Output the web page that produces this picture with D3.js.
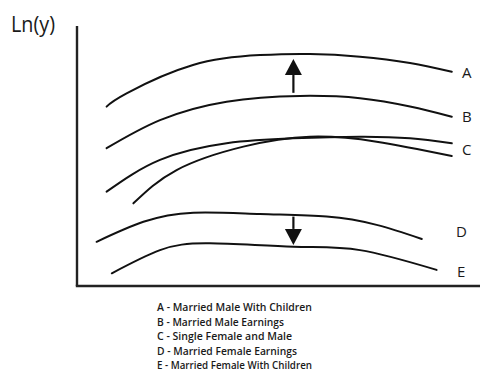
<!DOCTYPE html>
<html>
<head>
<meta charset="utf-8">
<script src="https://cdn.jsdelivr.net/npm/d3@7/dist/d3.min.js"></script>
<style>
  html, body { margin: 0; padding: 0; background: #fff; }
  svg { display: block; }
</style>
</head>
<body>
<svg id="chart" width="480" height="373"></svg>
<script>
// ---- data (arbitrary units: x = age/experience, y = ln(earnings)) ----
const xA = [7.4, 12.4, 29.0, 45.75, 58.25, 70.75, 83.25, 93.7];
const yA = [69.0, 74.1, 85.0, 88.8, 89.2, 88.2, 85.8, 82.4];
const xB = [7.4, 20.75, 37.4, 55.75, 70.75, 83.25, 93.7];
const yB = [53.0, 63.8, 70.9, 73.1, 72.2, 69.0, 65.1];
const xC1 = [7.4, 20.75, 37.4, 54.0, 70.75, 83.25, 93.7];
const yC1 = [36.3, 48.5, 54.9, 56.8, 57.4, 56.8, 54.9];
const xC2 = [14.1, 24.9, 41.6, 58.25, 74.9, 93.7];
const yC2 = [31.8, 44.6, 53.6, 57.4, 55.5, 50.0];
const xD = [4.9, 16.6, 29.1, 45.75, 62.4, 74.9, 86.2];
const yD = [17.0, 24.7, 28.2, 27.7, 26.7, 23.5, 18.1];
const xE = [8.7, 20.75, 33.25, 54.1, 70.75, 89.9];
const yE = [4.9, 13.8, 16.4, 15.1, 13.8, 6.2];

const labelNames = ["A", "B", "C", "D", "E"];
const labelY = [82.0, 65.1, 52.3, 20.8, 5.6];
const legendLines = [
  "A - Married Male With Children",
  "B - Married Male Earnings",
  "C - Single Female and Male",
  "D - Married Female Earnings",
  "E - Married Female With Children"
];
const arrowX = [54.1, 54.1];
const arrowFrom = [74.3, 26.7];
const arrowTo = [87.3, 15.8];
const yTitle = "Ln(y)";

// ---- layout ----
const svg = d3.select("#chart");
const x = d3.scaleLinear().domain([0, 100]).range([77, 477]);
const y = d3.scaleLinear().domain([0, 100]).range([286, 26]);

// axes (no ticks)
const xAxis = svg.append("g")
  .attr("transform", `translate(0,${y(0)})`)
  .call(d3.axisBottom(x).tickValues([]).tickSizeOuter(0));
const yAxis = svg.append("g")
  .attr("transform", `translate(${x(0)},0)`)
  .call(d3.axisLeft(y).tickValues([]).tickSizeOuter(0));
svg.selectAll(".domain").attr("stroke", "#222").attr("stroke-width", 2.4);
xAxis.select(".domain").attr("d", `M${x(0)-1.2},0H${480}`);
yAxis.select(".domain").attr("d", `M0,${y(0)}V${y(100)}`);

// curves
const series = [[xA, yA], [xB, yB], [xC1, yC1], [xC2, yC2], [xD, yD], [xE, yE]];
const line = d3.line()
  .x(d => x(d[0]))
  .y(d => y(d[1]))
  .curve(d3.curveNatural);
svg.append("g").selectAll("path")
  .data(series.map(s => s[0].map((v, i) => [v, s[1][i]])))
  .join("path")
  .attr("d", line)
  .attr("fill", "none")
  .attr("stroke", "#111")
  .attr("stroke-width", 2)
  .attr("stroke-linecap", "round");

// arrows
arrowX.forEach((ax, i) => {
  const px = x(ax);
  const y0 = y(arrowFrom[i]);
  const y1 = y(arrowTo[i]);
  const dir = y1 < y0 ? -1 : 1;
  const headLen = 16;
  const headHalf = 8.5;
  const baseY = y1 - dir * headLen;
  svg.append("line")
    .attr("x1", px).attr("x2", px)
    .attr("y1", y0).attr("y2", baseY)
    .attr("stroke", "#111").attr("stroke-width", 2.2);
  svg.append("path")
    .attr("d", `M${px},${y1}L${px - headHalf},${baseY}L${px + headHalf},${baseY}Z`)
    .attr("fill", "#111");
});

// series labels
const labelX = [462, 462, 462, 456, 457];
svg.append("g").selectAll("text")
  .data(labelNames)
  .join("text")
  .attr("x", (d, i) => labelX[i])
  .attr("y", (d, i) => y(labelY[i]))
  .attr("dy", "0.36em")
  .attr("font-family", "'Open Sans', 'Liberation Sans', sans-serif")
  .attr("font-size", 15)
  .attr("fill", "#1a1a1a")
  .text(d => d);

// y title
svg.append("text")
  .attr("x", 11)
  .attr("y", 32)
  .attr("font-family", "'Open Sans', 'Liberation Sans', sans-serif")
  .attr("font-size", 22)
  .attr("fill", "#1a1a1a")
  .attr("textLength", 44)
  .attr("lengthAdjust", "spacingAndGlyphs")
  .text(yTitle);

// legend
const legendW = [155, 127, 135, 140, 155];
svg.append("g").selectAll("text")
  .data(legendLines)
  .join("text")
  .attr("x", 157)
  .attr("y", (d, i) => 311 + i * 14.6)
  .attr("font-family", "'Open Sans', 'Liberation Sans', sans-serif")
  .attr("font-size", 10)
  .attr("font-weight", 600)
  .attr("fill", "#1a1a1a")
  .attr("textLength", (d, i) => legendW[i])
  .attr("lengthAdjust", "spacingAndGlyphs")
  .text(d => d);
</script>
</body>
</html>
